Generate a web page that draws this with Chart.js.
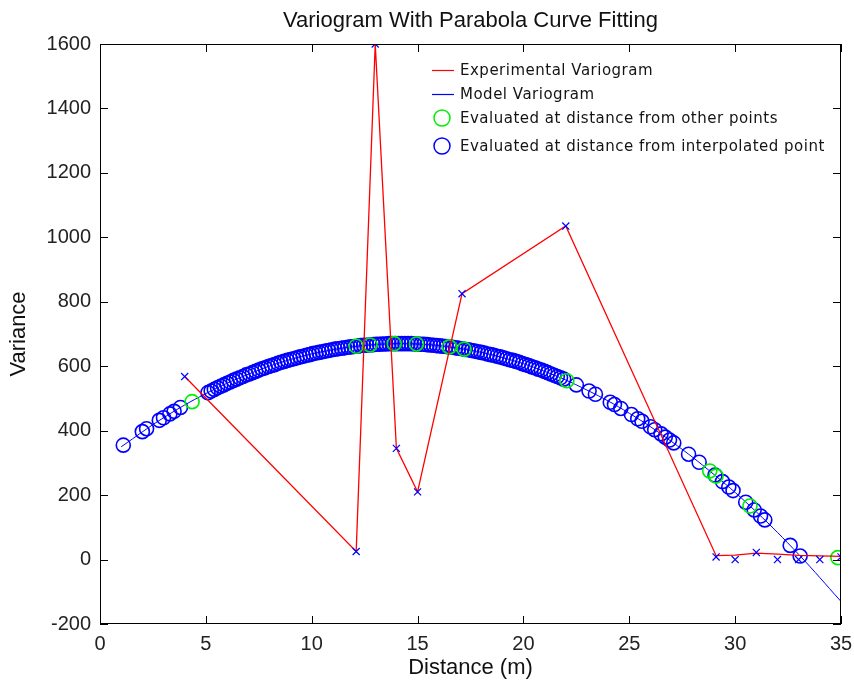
<!DOCTYPE html>
<html>
<head>
<meta charset="utf-8">
<title>Variogram With Parabola Curve Fitting</title>
<script src="https://cdn.jsdelivr.net/npm/chart.js@4.4.1/dist/chart.umd.min.js"></script>
<style>
    html, body { margin: 0; padding: 0; background: #ffffff; }
    #wrap { width: 854px; height: 691px; }
</style>
</head>
<body>
<div id="wrap"><canvas id="variogramChart" width="854" height="691"></canvas></div>
<script>
/* ===========================
Data
=========================== */

const chartTitle = "Variogram With Parabola Curve Fitting";

const xTicks = [0, 5, 10, 15, 20, 25, 30, 35];
const yTicks = [-200, 0, 200, 400, 600, 800, 1000, 1200, 1400, 1600];

// experimental variogram (red line)
const expDist = [4.0, 12.1, 13.0, 14.0, 15.0, 17.1, 22.0, 29.1, 30.0, 31.0, 32.0, 33.0, 35.0];
const expVar = [568, 25, 1600, 345, 210, 825, 1035, 12, 14, 20, 17, 13, 10];

// blue x markers
const crossDist = [4.0, 12.1, 13.0, 14.0, 15.0, 17.1, 22.0, 29.1, 30.0, 31.0, 32.0, 33.0, 34.0, 35.0];
const crossVar = [568, 25, 1600, 345, 210, 825, 1035, 8, 0, 22, 0, 0, 0, 8];

// model variogram (blue line)
const modelDist = [1, 3, 5, 7, 9, 11, 13, 15, 17, 19, 21, 23, 25, 27, 29, 31, 33, 35];
const modelVar = [350, 440, 515, 575, 621, 651, 667, 669, 655, 627, 584, 526, 454, 366, 264, 148, 16, -130];

// evaluated at distance from other points (green circles)
const otherDist = [4.35, 12.1, 12.75, 13.9, 14.95, 16.5, 17.2, 22.05, 28.8, 29.1, 30.7, 34.85];
const otherVar = [490, 662, 666, 670, 669, 660, 653, 555, 275, 259, 166, 6];

// evaluated at distance from interpolated point (blue circles)
const interpDist = [
    1.1, 2.0, 2.2, 2.8, 3.0, 3.3, 3.5, 3.8,
    5.1, 5.4, 5.7, 6.0, 6.3, 6.6, 6.9, 7.2, 7.5, 7.8, 8.1, 8.4, 8.7, 9.0, 9.3, 9.6, 9.9,
    10.2, 10.5, 10.8, 11.1, 11.4, 11.7, 12.0, 12.3, 12.6, 12.9, 13.2, 13.5, 13.8, 14.1, 14.4, 14.7,
    15.0, 15.3, 15.6, 15.9, 16.2, 16.5, 16.8, 17.1, 17.4, 17.7, 18.0, 18.3, 18.6, 18.9, 19.2, 19.5, 19.8,
    20.1, 20.4, 20.7, 21.0, 21.3, 21.6, 21.9, 22.5, 23.1, 23.4, 24.1, 24.3, 24.6, 25.1, 25.4, 25.6,
    26.0, 26.2, 26.5, 26.7, 26.9, 27.1, 27.8, 28.3, 29.05, 29.4, 29.7, 29.9, 30.5, 30.9, 31.2, 31.4, 32.6, 33.07,
    5.25, 5.55, 5.85, 6.15, 6.45, 6.75, 7.05, 7.35, 7.65, 7.95, 8.25, 8.55, 8.85, 9.15, 9.45, 9.75,
    10.05, 10.35, 10.65, 10.95, 11.25, 11.55, 11.85, 12.15, 12.45, 12.75, 13.05, 13.35, 13.65, 13.95,
    14.25, 14.55, 14.85, 15.15, 15.45, 15.75, 16.05, 16.35, 16.65, 16.95, 17.25, 17.55, 17.85, 18.15,
    18.45, 18.75, 19.05, 19.35, 19.65, 19.95, 20.25, 20.55, 20.85, 21.15, 21.45, 21.75
];
const interpVar = [
    355, 397, 406, 432, 440, 452, 460, 472,
    518, 528, 538, 547, 556, 564, 573, 580, 588, 595, 602, 609, 615, 621, 626, 631, 636,
    641, 645, 649, 653, 656, 659, 661, 664, 665, 667, 668, 669, 670, 670, 670, 670,
    669, 668, 666, 664, 662, 660, 657, 654, 651, 647, 643, 638, 634, 629, 623, 618, 612,
    605, 598, 591, 584, 576, 568, 560, 542, 523, 513, 488, 481, 469, 450, 437, 429,
    412, 403, 390, 380, 371, 362, 327, 302, 262, 242, 225, 214, 178, 154, 135, 123, 44, 11,
    523, 533, 542, 551, 560, 568, 576, 584, 592, 599, 605, 612, 618, 623, 629, 634,
    639, 643, 647, 651, 654, 657, 660, 662, 665, 666, 668, 669, 670, 670,
    670, 670, 669, 668, 667, 665, 663, 661, 659, 656, 652, 649, 645, 641,
    636, 631, 626, 620, 615, 608, 602, 595, 588, 580, 572, 564
];

const toPoints = (xs, ys) => xs.map((x, i) => ({ x: x, y: ys[i] }));

/* ===========================
Title, box, inward ticks and legend
=========================== */

const matlabBox = {
    id: "matlabBox",
    afterDraw(chart) {
        const ctx = chart.ctx;
        const a = chart.chartArea;
        const xs = chart.scales.x;
        const ys = chart.scales.y;
        const len = 8;
        ctx.save();

        // title, centred over the axes
        ctx.fillStyle = "#111111";
        ctx.font = "22px 'Liberation Sans', Arial";
        ctx.textAlign = "center";
        ctx.textBaseline = "alphabetic";
        ctx.fillText(chartTitle, (a.left + a.right) / 2, 27);

        ctx.strokeStyle = "#000000";
        ctx.lineWidth = 1;
        ctx.strokeRect(a.left + 0.5, a.top + 0.5, a.right - a.left - 1, a.bottom - a.top - 1);
        ctx.beginPath();
        xTicks.forEach(v => {
            const px = Math.round(xs.getPixelForValue(v)) + 0.5;
            ctx.moveTo(px, a.bottom);
            ctx.lineTo(px, a.bottom - len);
            ctx.moveTo(px, a.top);
            ctx.lineTo(px, a.top + len);
        });
        yTicks.forEach(v => {
            const py = Math.round(ys.getPixelForValue(v)) + 0.5;
            ctx.moveTo(a.left, py);
            ctx.lineTo(a.left + len, py);
            ctx.moveTo(a.right, py);
            ctx.lineTo(a.right - len, py);
        });
        ctx.stroke();

        // legend
        const lx = 432;
        const tx = 460;
        const rows = [70, 94, 118, 146];
        const items = chart.data.datasets.filter(d => d.legendKind);
        ctx.font = "15px 'DejaVu Sans'";
        ctx.letterSpacing = "0.5px";
        ctx.textAlign = "left";
        ctx.textBaseline = "middle";
        items.forEach((d, i) => {
            const y = rows[i];
            ctx.strokeStyle = d.borderColor;
            ctx.lineWidth = d.legendKind === "line" ? 1.2 : 1.5;
            ctx.beginPath();
            if (d.legendKind === "line") {
                ctx.moveTo(lx, y + 0.5);
                ctx.lineTo(lx + 22, y + 0.5);
            } else {
                ctx.arc(lx + 10, y, 8, 0, Math.PI * 2);
            }
            ctx.stroke();
            ctx.fillStyle = "#141414";
            ctx.fillText(d.label, tx, y + 1);
        });
        ctx.restore();
    }
};

/* ===========================
Chart
=========================== */

const ctx = document.getElementById("variogramChart");

new Chart(ctx, {

    type: "scatter",

    data: {

        datasets: [

            {
                label: "markers",
                data: toPoints(crossDist, crossVar),
                pointStyle: "crossRot",
                pointRadius: 5,
                pointBorderColor: "#0000ff",
                borderColor: "#0000ff",
                pointBorderWidth: 1.2,
                showLine: false,
                order: 0
            },

            {
                label: "Experimental Variogram",
                legendKind: "line",
                data: toPoints(expDist, expVar),
                borderColor: "#ff0000",
                borderWidth: 1.3,
                pointRadius: 0,
                showLine: true,
                order: 1
            },

            {
                label: "Model Variogram",
                legendKind: "line",
                data: toPoints(modelDist, modelVar),
                borderColor: "#0000ff",
                borderWidth: 1,
                pointRadius: 0,
                showLine: true,
                tension: 0.4,
                order: 4
            },

            {
                label: "Evaluated at distance from other points",
                legendKind: "circle",
                data: toPoints(otherDist, otherVar),
                pointStyle: "circle",
                pointRadius: 7,
                borderColor: "#00ee00",
                pointBorderColor: "#00ee00",
                pointBackgroundColor: "rgba(0,0,0,0)",
                pointBorderWidth: 1.6,
                showLine: false,
                order: 2
            },

            {
                label: "Evaluated at distance from interpolated point",
                legendKind: "circle",
                data: toPoints(interpDist, interpVar),
                pointStyle: "circle",
                pointRadius: 7,
                borderColor: "#0000ff",
                pointBorderColor: "#0000ff",
                pointBackgroundColor: "rgba(0,0,0,0)",
                pointBorderWidth: 1.6,
                showLine: false,
                order: 3
            }

        ]

    },

    options: {

        responsive: false,
        animation: false,

        layout: {
            padding: { left: 0, right: 13, top: 44, bottom: 0 }
        },

        plugins: {
            legend: { display: false },
            tooltip: { enabled: false },
            title: { display: false }
        },

        scales: {

            x: {
                type: "linear",
                min: 0,
                max: 35,
                grid: { display: false, drawTicks: false },
                border: { display: false },
                afterBuildTicks: axis => { axis.ticks = xTicks.map(v => ({ value: v })); },
                afterFit: axis => {
                    axis.height = 67;
                    axis.paddingLeft = 0;
                    axis.paddingRight = 0;
                },
                ticks: {
                    color: "#222222",
                    padding: 8,
                    maxRotation: 0,
                    callback: v => String(v),
                    font: { family: "'Liberation Sans', Arial", size: 20 }
                },
                title: {
                    display: true,
                    text: "Distance (m)",
                    color: "#111111",
                    padding: { top: 0, bottom: 10 },
                    font: { family: "'Liberation Sans', Arial", size: 22 }
                }
            },

            y: {
                type: "linear",
                min: -200,
                max: 1600,
                grid: { display: false, drawTicks: false },
                border: { display: false },
                afterBuildTicks: axis => { axis.ticks = yTicks.map(v => ({ value: v })); },
                afterFit: axis => {
                    axis.width = 100;
                    axis.paddingTop = 0;
                    axis.paddingBottom = 0;
                },
                ticks: {
                    color: "#222222",
                    padding: 9,
                    callback: v => String(v),
                    font: { family: "'Liberation Sans', Arial", size: 20 }
                },
                title: {
                    display: true,
                    text: "Variance",
                    color: "#111111",
                    padding: { top: 6, bottom: 0 },
                    font: { family: "'Liberation Sans', Arial", size: 22 }
                }
            }

        }

    },

    plugins: [matlabBox]

});
</script>
</body>
</html>
